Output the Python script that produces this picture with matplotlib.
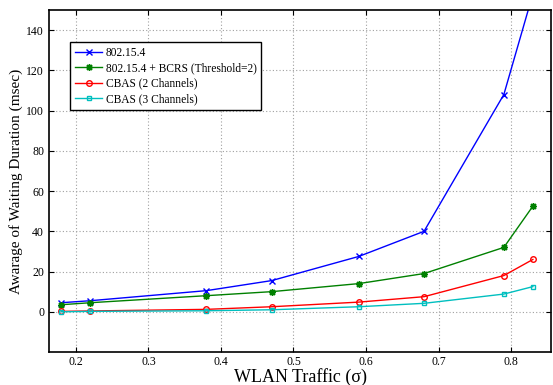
import numpy as np
import matplotlib.pyplot as plt

plt.rcParams['font.family'] = ['Liberation Serif', 'DejaVu Serif']

traffic = [0.18, 0.22, 0.38, 0.47, 0.59, 0.68, 0.79, 0.83]
ieee = [4.5, 5.5, 10.5, 15.5, 27.5, 40.0, 108.0, 158.0]
bcrs = [3.5, 4.5, 8.0, 10.0, 14.0, 19.0, 32.0, 52.5]
cbas2 = [0.2, 0.4, 1.2, 2.5, 4.8, 7.5, 18.0, 26.0]
cbas3 = [0.0, 0.2, 0.5, 1.0, 2.5, 4.2, 8.8, 12.5]

fig = plt.figure(figsize=(5.53, 3.85), dpi=100)
ax = fig.add_axes([0.0886, 0.0857, 0.9078, 0.8883])

ax.plot(traffic, ieee, color='blue', marker='x', ms=4, lw=1, label='802.15.4')
ax.plot(traffic, bcrs, color='green', marker=(8, 2, 0), ms=5, lw=1, label='802.15.4 + BCRS (Threshold=2)')
ax.plot(traffic, cbas2, color='red', marker='o', ms=4, mfc='none', lw=1, label='CBAS (2 Channels)')
ax.plot(traffic, cbas3, color='c', marker='s', ms=3.5, mfc='none', lw=1, label='CBAS (3 Channels)')

ax.set_xlim(0.163, 0.855)
ax.set_ylim(-20, 150)
ax.set_xticks([0.2, 0.3, 0.4, 0.5, 0.6, 0.7, 0.8])
ax.set_yticks([0, 20, 40, 60, 80, 100, 120, 140])
ax.tick_params(direction='in', top=True, right=True, labelsize=8.5)
ax.tick_params(axis='x', pad=3)
ax.grid(True, linestyle=(0, (1, 2)), color='#a0a0a0', lw=0.8)
for s in ax.spines.values():
    s.set_linewidth(1.2)

ax.set_xlabel('WLAN Traffic (σ)', fontsize=13, labelpad=0)
ax.set_ylabel('Awarage of Waiting Duration (msec)', fontsize=11, labelpad=2)

leg = ax.legend(loc='upper left', bbox_to_anchor=(0.042, 0.906), fontsize=8.3,
                fancybox=False, edgecolor='black', framealpha=1, borderaxespad=0,
                handlelength=2.4, borderpad=0.4, labelspacing=0.3, handletextpad=0.3)
leg.get_frame().set_linewidth(1)

plt.savefig('out.png', dpi=100)
